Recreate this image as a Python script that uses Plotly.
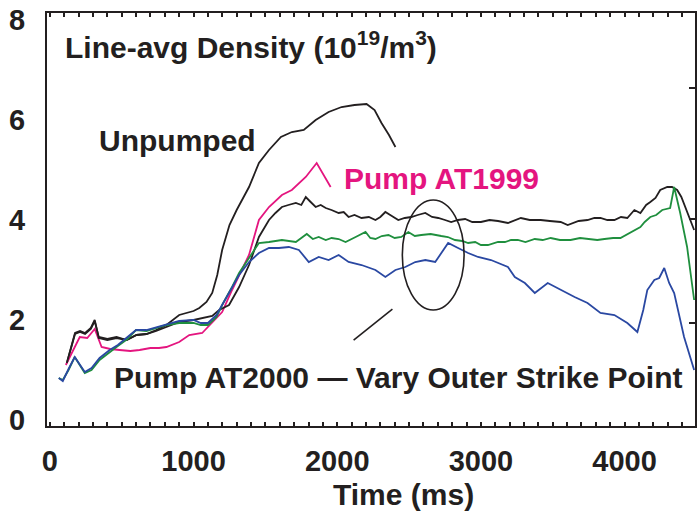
import plotly.graph_objects as go

# ---- data (time in ms, density in 1e19/m^3) ----
unpumped_t = [118, 175, 210, 245, 285, 312, 340, 400, 464, 534, 603, 672, 740, 811, 900, 1000, 1040, 1090, 1130,
              1165, 1199, 1250, 1300, 1386, 1455, 1525, 1608, 1684, 1767, 1850, 1940, 2030, 2120, 2204, 2260,
              2308, 2360, 2405]
unpumped_y = [1.14, 1.72, 1.76, 1.72, 1.82, 1.98, 1.66, 1.62, 1.66, 1.6, 1.7, 1.72, 1.8, 1.9, 2.1, 2.18, 2.24,
              2.36, 2.54, 2.9, 3.4, 3.9, 4.2, 4.66, 5.14, 5.4, 5.66, 5.76, 5.8, 6.0, 6.16, 6.26, 6.3, 6.32, 6.2,
              5.94, 5.7, 5.46]

pumped_t = [118, 175, 210, 245, 285, 312, 340, 400, 464, 534, 603, 672, 740, 811, 900, 1000, 1088, 1130, 1178,
            1247, 1317, 1386, 1455, 1525, 1570, 1615, 1660, 1712, 1750, 1781, 1815, 1850, 1885, 1920, 1960, 2010,
            2045, 2079, 2120, 2169, 2220, 2266, 2300, 2335, 2380, 2425, 2470, 2516, 2560, 2613, 2660, 2703, 2750,
            2793, 2840, 2890, 2940, 3000, 3060, 3119, 3188, 3230, 3278, 3340, 3416, 3480, 3555, 3604, 3680, 3742,
            3790, 3832, 3880, 3929, 3975, 4019, 4068, 4110, 4150, 4179, 4215, 4248, 4297, 4330, 4366, 4395, 4421,
            4455, 4484]
pumped_y = [1.14, 1.74, 1.78, 1.74, 1.84, 2.0, 1.64, 1.6, 1.64, 1.6, 1.7, 1.72, 1.78, 1.86, 1.96, 2.0, 2.06,
            2.08, 2.2, 2.3, 2.66, 3.1, 3.66, 4.0, 4.14, 4.26, 4.3, 4.34, 4.3, 4.46, 4.36, 4.26, 4.3, 4.24, 4.2,
            4.14, 4.16, 4.06, 4.1, 4.04, 4.06, 4.0, 4.06, 4.16, 4.08, 4.0, 4.04, 4.06, 4.1, 4.14, 4.06, 4.04, 4.0,
            3.96, 4.0, 4.02, 3.96, 3.96, 4.0, 3.98, 3.94, 3.98, 4.04, 4.0, 4.0, 3.98, 3.96, 3.9, 3.98, 4.0, 4.04,
            4.04, 4.0, 4.0, 4.06, 4.04, 4.2, 4.14, 4.3, 4.36, 4.44, 4.6, 4.66, 4.66, 4.6, 4.46, 4.26, 4.0, 3.8]

at1999_t = [111, 160, 208, 260, 312, 360, 420, 485, 560, 624, 700, 760, 811, 900, 970, 1060, 1130, 1199, 1268,
            1317, 1386, 1455, 1525, 1615, 1684, 1781, 1857, 1954]
at1999_y = [1.1, 1.4, 1.66, 1.64, 1.82, 1.46, 1.42, 1.4, 1.38, 1.4, 1.44, 1.44, 1.46, 1.56, 1.7, 1.74, 1.96,
            2.16, 2.6, 2.9, 3.3, 4.0, 4.26, 4.5, 4.6, 4.86, 5.14, 4.66]

green_t = [62, 90, 130, 173, 243, 290, 346, 416, 473, 540, 600, 672, 750, 811, 900, 1000, 1050, 1100, 1160,
           1199, 1268, 1317, 1386, 1455, 1525, 1615, 1712, 1788, 1830, 1871, 1920, 1961, 2010, 2058, 2128, 2197,
           2230, 2266, 2310, 2356, 2400, 2446, 2495, 2540, 2585, 2650, 2724, 2770, 2820, 2870, 2911, 2960, 3000,
           3049, 3119, 3167, 3210, 3257, 3310, 3375, 3430, 3486, 3550, 3624, 3690, 3763, 3810, 3860, 3920, 3971,
           4033, 4070, 4110, 4140, 4179, 4220, 4262, 4317, 4345, 4387, 4435, 4484]
green_y = [0.84, 0.8, 1.0, 1.26, 0.94, 1.0, 1.2, 1.36, 1.48, 1.62, 1.8, 1.78, 1.84, 1.9, 1.94, 1.94, 1.9,
           1.9, 2.06, 2.3, 2.66, 2.94, 3.24, 3.54, 3.56, 3.6, 3.56, 3.72, 3.62, 3.66, 3.6, 3.64, 3.62, 3.56,
           3.66, 3.76, 3.64, 3.62, 3.68, 3.7, 3.64, 3.66, 3.76, 3.68, 3.7, 3.72, 3.68, 3.66, 3.6, 3.58, 3.54,
           3.56, 3.5, 3.5, 3.56, 3.56, 3.6, 3.6, 3.56, 3.62, 3.6, 3.64, 3.6, 3.6, 3.64, 3.62, 3.6, 3.62, 3.64,
           3.64, 3.74, 3.8, 3.86, 3.96, 4.06, 4.1, 4.2, 4.24, 4.66, 4.14, 3.46, 2.4]

blue_t = [62, 90, 130, 173, 243, 290, 346, 416, 473, 540, 600, 672, 750, 811, 900, 1000, 1050, 1100, 1160,
          1199, 1268, 1317, 1386, 1455, 1525, 1594, 1663, 1733, 1802, 1871, 1940, 2010, 2079, 2169, 2266, 2335,
          2405, 2474, 2543, 2613, 2682, 2772, 2841, 2911, 2980, 3070, 3188, 3236, 3306, 3375, 3465, 3555, 3652,
          3742, 3832, 3929, 4019, 4089, 4130, 4158, 4207, 4241, 4276, 4310, 4345, 4414, 4484]
blue_y = [0.84, 0.78, 1.02, 1.26, 0.96, 1.04, 1.24, 1.4, 1.5, 1.66, 1.8, 1.8, 1.86, 1.9, 1.98, 2.0, 1.94,
          1.94, 2.1, 2.3, 2.66, 2.9, 3.16, 3.34, 3.44, 3.44, 3.46, 3.4, 3.16, 3.26, 3.2, 3.3, 3.16, 3.1, 3.0,
          2.86, 3.0, 3.06, 3.16, 3.2, 3.16, 3.54, 3.44, 3.34, 3.26, 3.2, 3.06, 2.86, 2.74, 2.54, 2.74, 2.6,
          2.46, 2.34, 2.14, 2.1, 1.94, 1.76, 2.2, 2.6, 2.8, 2.84, 3.04, 2.74, 2.54, 1.66, 1.0]

x_tickvals = [0, 1000, 2000, 3000, 4000]
y_tickvals = [0, 2, 4, 6, 8]
right_tickvals = [1.94, 4.02, 6.64]

FONT = "Liberation Sans, Arial, Helvetica, sans-serif"
INK = "#231f20"
MAGENTA = "#e4157f"
GREEN = "#1f8f3e"
BLUE = "#2a48a2"

fig = go.Figure()
for t, y, c in [(unpumped_t, unpumped_y, INK), (at1999_t, at1999_y, MAGENTA),
                (pumped_t, pumped_y, INK), (green_t, green_y, GREEN), (blue_t, blue_y, BLUE)]:
    fig.add_trace(go.Scatter(x=t, y=y, mode="lines", line=dict(color=c, width=1.8),
                             showlegend=False, hoverinfo="skip"))

fig.add_trace(go.Scatter(x=[None], y=[None], yaxis="y2", showlegend=False))

txt = dict(family=FONT, size=30, color=INK, weight=700)
tickf = dict(family=FONT, size=29, color=INK, weight=700)
fig.update_layout(
    width=698, height=517,
    margin=dict(l=47, r=1, t=13, b=91),
    paper_bgcolor="white", plot_bgcolor="white",
    font=txt,
    xaxis=dict(range=[-20, 4490], tickvals=x_tickvals, ticks="inside", ticklen=4, tickwidth=1.5,
               tickcolor=INK, showline=True, linewidth=2, linecolor=INK, mirror="allticks",
               showgrid=False, zeroline=False, ticklabelstandoff=8, ticklabeloverflow="allow",
               minor=dict(dtick=100, tick0=0, ticks="inside", ticklen=4, tickwidth=1.5, tickcolor=INK),
               tickfont=tickf),
    yaxis=dict(range=[-0.12, 8.14], tickvals=y_tickvals, ticks="", showline=True, linewidth=2,
               linecolor=INK, mirror=True, showgrid=False, zeroline=False, ticklabelstandoff=14,
               ticklabeloverflow="allow", tickfont=tickf),
    yaxis2=dict(range=[-0.12, 8.14], overlaying="y", side="right", tickvals=right_tickvals,
                ticks="inside", ticklen=6, tickwidth=1.5, tickcolor=INK, showticklabels=False,
                showgrid=False, zeroline=False, showline=False),
)

fig.add_shape(type="circle", xref="x", yref="y", x0=2453, x1=2883, y0=2.2, y1=4.4,
              line=dict(color=INK, width=1.6))
fig.add_shape(type="line", xref="x", yref="y", x0=2384, y0=2.22, x1=2114, y1=1.6,
              line=dict(color=INK, width=1.6))

fig.add_annotation(x=90, y=7.5, xref="x", yref="y", xanchor="left", yanchor="middle", showarrow=False,
                   text="Line-avg Density (10<sup>19</sup>/m<sup>3</sup>)", font=txt)
fig.add_annotation(x=326, y=5.6, xref="x", yref="y", xanchor="left", yanchor="middle", showarrow=False,
                   text="Unpumped", font=txt)
fig.add_annotation(x=2030, y=4.84, xref="x", yref="y", xanchor="left", yanchor="middle", showarrow=False,
                   text="Pump AT1999", font=dict(family=FONT, size=30, color=MAGENTA, weight=700))
fig.add_annotation(x=430, y=0.86, xref="x", yref="y", xanchor="left", yanchor="middle", showarrow=False,
                   text="Pump AT2000 \u2014 Vary Outer Strike Point", font=txt)
fig.add_annotation(x=2460, y=-0.167, xref="x", yref="paper", xanchor="center", yanchor="middle",
                   showarrow=False, text="Time (ms)", font=txt)

fig.write_html("out.html")
